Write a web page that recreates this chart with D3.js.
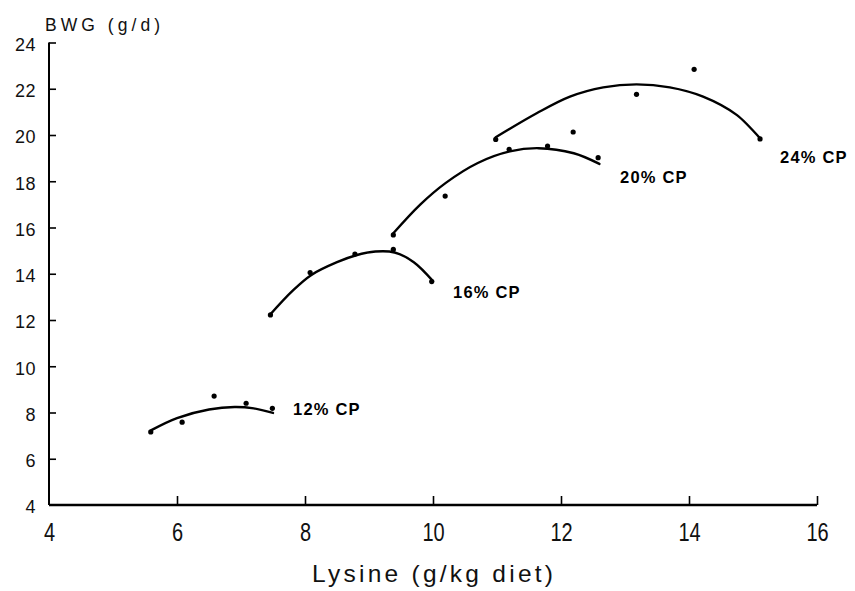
<!DOCTYPE html>
<html><head><meta charset="utf-8">
<script src="https://cdn.jsdelivr.net/npm/d3@7"></script>
<style>
html,body{margin:0;padding:0;background:#fff;}
svg{display:block;font-family:"Liberation Sans",Arial,Helvetica,sans-serif;}
</style></head>
<body>
<svg id="chart" width="855" height="591"></svg>
<script>
// ---- data ----
const xTicks = [4, 6, 8, 10, 12, 14, 16];
const yTicks = [4, 6, 8, 10, 12, 14, 16, 18, 20, 22, 24];
const seriesLabels = ["12% CP", "16% CP", "20% CP", "24% CP"];

// observed points (Lysine g/kg, BWG g/d)
const lys12 = [5.59, 6.08, 6.58, 7.08, 7.49];
const bwg12 = [7.16, 7.58, 8.71, 8.40, 8.18];
const lys16 = [7.46, 8.08, 8.78, 9.38, 9.98];
const bwg16 = [12.22, 14.05, 14.85, 15.05, 13.66];
const lys20 = [9.38, 10.19, 11.19, 11.79, 12.58];
const bwg20 = [15.68, 17.36, 19.38, 19.52, 19.02];
const lys24 = [10.98, 12.19, 13.18, 14.08, 15.11];
const bwg24 = [19.81, 20.13, 21.76, 22.84, 19.83];

// fitted response curves
const fit12X = [5.6, 6.0, 6.5, 6.9, 7.2, 7.5];
const fit12Y = [7.24, 7.76, 8.13, 8.24, 8.18, 7.98];
const fit16X = [7.46, 7.8, 8.1, 8.5, 8.8, 9.1, 9.4, 9.7, 10.0];
const fit16Y = [12.25, 13.25, 13.95, 14.5, 14.8, 14.96, 14.92, 14.5, 13.68];
const fit20X = [9.38, 9.8, 10.2, 10.7, 11.2, 11.65, 12.2, 12.6];
const fit20Y = [15.75, 16.99, 17.93, 18.79, 19.29, 19.43, 19.21, 18.75];
const fit24X = [10.98, 11.62, 12.14, 12.66, 13.18, 13.70, 14.22, 14.75, 15.11];
const fit24Y = [19.9, 20.94, 21.66, 22.06, 22.19, 22.06, 21.66, 20.86, 19.86];

// ---- drawing ----
const svg = d3.select("#chart");
const x = d3.scaleLinear().domain([4, 16]).range([49, 817]);
const y = d3.scaleLinear().domain([4, 24]).range([505, 42.5]);

const zip = (a, b) => a.map((v, i) => [v, b[i]]);
const series = [
  {pts: zip(lys12, bwg12), fit: zip(fit12X, fit12Y), label: seriesLabels[0], lx: 293, ly: 415},
  {pts: zip(lys16, bwg16), fit: zip(fit16X, fit16Y), label: seriesLabels[1], lx: 453, ly: 298},
  {pts: zip(lys20, bwg20), fit: zip(fit20X, fit20Y), label: seriesLabels[2], lx: 620, ly: 183},
  {pts: zip(lys24, bwg24), fit: zip(fit24X, fit24Y), label: seriesLabels[3], lx: 780, ly: 163}
];

// Y axis
const gy = svg.append("g").attr("transform", `translate(${x(4)},0)`)
  .call(d3.axisLeft(y).tickValues(yTicks).tickSize(-7).tickPadding(13).tickFormat(d3.format("d")));
gy.select(".domain").attr("stroke", "#000").attr("stroke-width", 2)
  .attr("d", `M0,${y(24)}V${y(4)}`);
gy.selectAll(".tick line").attr("stroke", "#000").attr("stroke-width", 1.6);
gy.selectAll(".tick text").attr("font-size", 18).attr("fill", "#111")
  .attr("font-family", "Liberation Sans, Arial, sans-serif").attr("y", 2).attr("letter-spacing", 0.5);
gy.selectAll(".tick").filter(d => d === 4).select("line").remove();

// X axis
const gx = svg.append("g").attr("transform", `translate(0,${y(4)})`)
  .call(d3.axisBottom(x).tickValues(xTicks).tickSize(-9).tickFormat(d3.format("d")));
gx.select(".domain").attr("stroke", "#000").attr("stroke-width", 2.6)
  .attr("d", `M${x(4)},0H${x(16)}`);
gx.selectAll(".tick line").attr("stroke", "#000").attr("stroke-width", 1.6);
gx.selectAll(".tick").filter(d => d === 4).select("line").remove();
gx.selectAll(".tick text").attr("font-size", 25).attr("fill", "#111")
  .attr("font-family", "Liberation Sans, Arial, sans-serif")
  .attr("y", 36).attr("dy", null).attr("transform", "scale(0.8,1)");

// axis titles
svg.append("text").attr("x", 312).attr("y", 582).attr("font-size", 24.5)
  .attr("textLength", 241).attr("lengthAdjust", "spacing").attr("fill", "#111")
  .text("Lysine (g/kg diet)");
svg.append("text").attr("x", 45).attr("y", 31).attr("font-size", 17.5)
  .attr("textLength", 115).attr("lengthAdjust", "spacing").attr("fill", "#111")
  .text("BWG (g/d)");

// curves, points, labels
const line = d3.line().x(d => x(d[0])).y(d => y(d[1])).curve(d3.curveCatmullRom.alpha(0.5));
series.forEach(s => {
  svg.append("path").datum(s.fit).attr("d", line).attr("fill", "none")
    .attr("stroke", "#000").attr("stroke-width", 2.4).attr("stroke-linecap", "round");
  svg.append("g").selectAll("circle").data(s.pts).join("circle")
    .attr("cx", d => x(d[0])).attr("cy", d => y(d[1])).attr("r", 2.6).attr("fill", "#000");
  svg.append("text").attr("x", s.lx).attr("y", s.ly).attr("font-size", 16.5)
    .attr("font-weight", "bold").attr("letter-spacing", 1.2).attr("fill", "#000")
    .text(s.label);
});
</script>
</body></html>
